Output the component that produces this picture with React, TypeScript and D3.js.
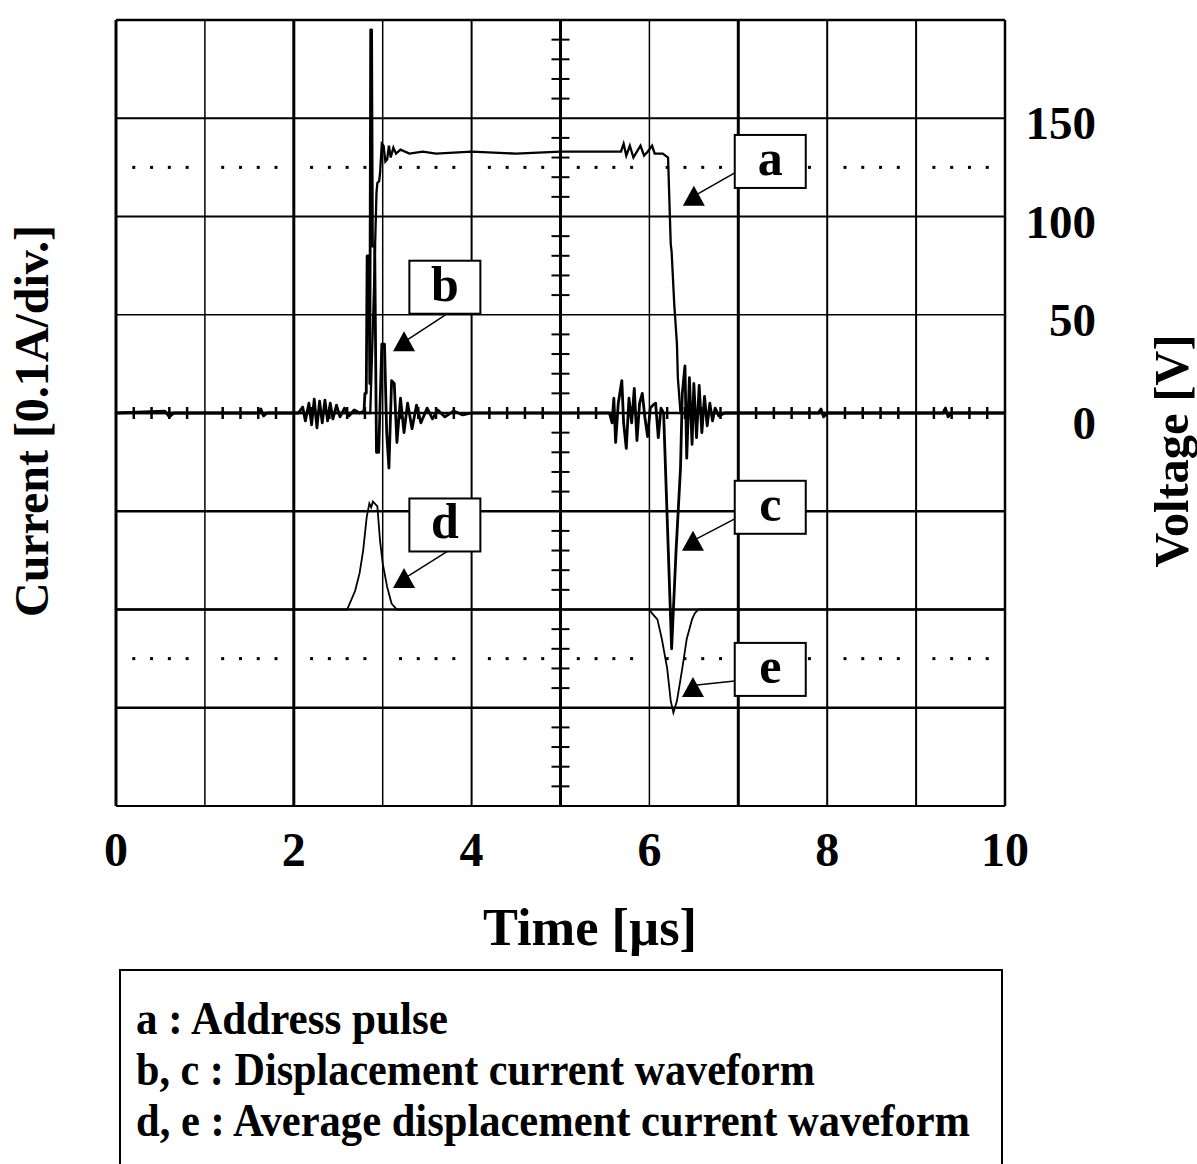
import React from 'react';
import * as d3 from 'd3';

const WIDTH = 1197;
const HEIGHT = 1164;
const FONT = '"Liberation Serif", "Times New Roman", serif';

// bottom axis labels [µs]
const timeLabels = [0, 2, 4, 6, 8, 10];
// right axis labels [V]
const voltageLabels = [0, 50, 100, 150];

// a : address pulse, [time µs, voltage V]
const addressPulse = [
  [0, 0], [2.86, 0], [2.9, 60], [2.93, 112], [2.94, 117], [2.96, 118], [2.97, 122],
  [2.99, 137], [3.01, 136], [3.03, 128], [3.05, 129], [3.07, 136], [3.09, 130],
  [3.12, 135], [3.15, 132], [3.2, 134], [3.3, 132], [3.45, 133], [3.6, 132], [4.0, 133],
  [4.5, 132], [5.0, 133], [5.5, 133], [5.68, 133], [5.71, 137], [5.74, 131], [5.78, 136],
  [5.82, 130], [5.86, 133], [5.9, 136], [5.94, 131], [5.98, 133], [6.03, 136], [6.06, 132],
  [6.15, 132], [6.21, 130], [6.24, 86], [6.25, 82], [6.28, 55], [6.31, 35], [6.32, 18],
  [6.35, 0], [10, 0],
];

// b, c : displacement current, [time µs, current A]
const displacementCurrent = [
  [0, 0], [0.55, 0.002], [0.6, -0.004], [0.65, 0], [1.6, 0], [1.63, 0.004], [1.66, -0.003],
  [1.7, 0], [2.05, 0], [2.1, 0.006], [2.13, -0.008], [2.17, 0.01], [2.2, -0.012],
  [2.23, 0.014], [2.26, -0.015], [2.29, 0.012], [2.32, -0.01], [2.35, 0.013], [2.38, -0.008],
  [2.41, 0.01], [2.44, -0.006], [2.48, 0.008], [2.52, -0.004], [2.57, 0.005], [2.62, -0.003],
  [2.68, 0.003], [2.74, 0], [2.79, 0.002], [2.8, 0.02], [2.815, 0.02], [2.825, 0.16],
  [2.845, 0.16], [2.855, 0.03], [2.865, 0.39], [2.875, 0.39], [2.885, 0.17], [2.91, 0.17],
  [2.93, -0.04], [2.955, -0.04], [2.99, 0.07], [3.02, 0.07], [3.045, -0.02], [3.07, -0.056],
  [3.1, 0.033], [3.13, 0.03], [3.16, -0.03], [3.2, 0.015], [3.24, -0.02], [3.28, 0.01],
  [3.33, -0.016], [3.38, 0.008], [3.43, -0.01], [3.5, 0.005], [3.56, -0.006], [3.62, 0.003],
  [3.7, -0.004], [3.8, 0.002], [3.9, -0.002], [4.0, 0], [5.55, 0], [5.58, -0.01],
  [5.6, 0.015], [5.62, -0.03], [5.65, 0.01], [5.69, 0.033], [5.71, -0.01], [5.74, -0.036],
  [5.77, 0.015], [5.8, -0.01], [5.83, 0.025], [5.86, -0.028], [5.89, 0.01], [5.92, 0.02],
  [5.95, -0.005], [5.98, -0.024], [6.01, 0.005], [6.04, 0.008], [6.07, 0.01], [6.1, -0.025],
  [6.13, 0.005], [6.16, 0], [6.19, -0.08], [6.25, -0.24], [6.3, -0.14], [6.35, -0.056],
  [6.37, 0.02], [6.4, 0.048], [6.42, -0.046], [6.45, 0.036], [6.48, -0.032], [6.5, 0.03],
  [6.53, -0.025], [6.56, 0.028], [6.59, -0.02], [6.62, 0.017], [6.65, -0.013], [6.68, 0.01],
  [6.71, -0.008], [6.74, 0.005], [6.78, -0.003], [6.85, 0], [7.9, 0], [7.93, 0.004],
  [7.96, -0.004], [8.0, 0], [9.3, 0], [9.33, 0.005], [9.36, -0.004], [9.4, 0], [10, 0],
];

// d, e : average displacement current, [time µs, current A]
const averageCurrent = [
  [0, 0], [2.6, 0], [2.69, 0.019], [2.74, 0.037], [2.78, 0.06], [2.82, 0.094], [2.85, 0.108],
  [2.87, 0.104], [2.89, 0.11], [2.94, 0.105], [2.97, 0.07], [3.0, 0.047], [3.05, 0.023],
  [3.1, 0.006], [3.16, 0], [6.0, 0], [6.03, -0.004], [6.09, -0.01], [6.14, -0.03], [6.2, -0.06],
  [6.24, -0.093], [6.27, -0.105], [6.31, -0.093], [6.37, -0.06], [6.42, -0.03], [6.48, -0.01],
  [6.51, -0.004], [6.55, 0], [10, 0],
];
// averaged trace is displayed 2 div (0.2 A) below zero
const AVERAGE_OFFSET = -0.2;

// dotted reference levels [A]
const dottedLevels = [0.25, -0.25];

// trace markers: box top-left and arrow tip, in (µs, A)
const markers = [
  { label: 'a', boxT: 6.96, boxA: 0.283, tipT: 6.5, tipA: 0.22, from: 'left' },
  { label: 'b', boxT: 3.3, boxA: 0.155, tipT: 3.24, tipA: 0.072, from: 'bottom' },
  { label: 'c', boxT: 6.96, boxA: -0.069, tipT: 6.49, tipA: -0.131, from: 'left' },
  { label: 'd', boxT: 3.3, boxA: -0.087, tipT: 3.24, tipA: -0.169, from: 'bottom' },
  { label: 'e', boxT: 6.96, boxA: -0.234, tipT: 6.49, tipA: -0.28, from: 'left' },
];

const legendLines = [
  { text: 'a : Address pulse', len: 312 },
  { text: 'b, c : Displacement current waveform', len: 679 },
  { text: 'd, e : Average displacement current waveform', len: 834 },
];

const plot = { left: 116, right: 1005, top: 20, bottom: 806 };

export default function App() {
  const x = d3.scaleLinear().domain([0, 10]).range([plot.left, plot.right]);
  const yCur = d3.scaleLinear().domain([-0.4, 0.4]).range([plot.bottom, plot.top]);
  const yVolt = d3.scaleLinear().domain([-200, 200]).range([plot.bottom, plot.top]);

  const voltLine = d3.line().x((d) => x(d[0])).y((d) => yVolt(d[1]));
  const curLine = d3.line().x((d) => x(d[0])).y((d) => yCur(d[1]));
  const avgLine = d3.line().x((d) => x(d[0])).y((d) => yCur(d[1] + AVERAGE_OFFSET));

  // graticule line weights as they look on the scope photo
  const vWidths = [3, 1.5, 3, 1.5, 2, 3, 1.5, 3, 2, 2, 2.5];
  const hWidths = [2, 2.5, 2.5, 2.5, 2.5, 1.5, 2, 2, 2.5];

  const divT = d3.range(0, 11);
  const divA = d3.range(-4, 5).map((k) => k / 10);
  const minorT = d3.range(0, 51).filter((i) => i % 5 !== 0).map((i) => i / 5);
  const minorA = d3.range(-20, 21).filter((i) => i % 5 !== 0).map((i) => i / 50);

  const boxW = 71;
  const boxH = 53;

  return (
    <svg
      width={WIDTH}
      height={HEIGHT}
      style={{ position: 'absolute', left: 0, top: 0, background: '#fff' }}
      fontFamily={FONT}
    >
      <rect width={WIDTH} height={HEIGHT} fill="#fff" />

      {/* graticule */}
      <g stroke="#000">
        {divT.map((t, i) => (
          <line key={`v${t}`} x1={x(t)} x2={x(t)} y1={plot.top} y2={plot.bottom} strokeWidth={vWidths[i]} />
        ))}
        {divA.map((a, i) => (
          <line key={`h${i}`} x1={plot.left} x2={plot.right} y1={yCur(a)} y2={yCur(a)} strokeWidth={hWidths[i]} />
        ))}
        {minorT.map((t) => (
          <line key={`mt${t}`} x1={x(t)} x2={x(t)} y1={yCur(0) - 6} y2={yCur(0) + 6} strokeWidth={2.5} />
        ))}
        {minorA.map((a) => (
          <line key={`ma${a}`} x1={x(5) - 9} x2={x(5) + 9} y1={yCur(a)} y2={yCur(a)} strokeWidth={2} />
        ))}
      </g>
      <g fill="#000">
        {dottedLevels.map((lv) =>
          minorT.map((t) => (
            <rect key={`d${lv}-${t}`} x={x(t) - 1.5} y={yCur(lv) - 1.5} width={3} height={3} />
          ))
        )}
      </g>

      {/* traces */}
      <path d={avgLine(averageCurrent) ?? ''} fill="none" stroke="#000" strokeWidth={1.8} />
      <path d={voltLine(addressPulse) ?? ''} fill="none" stroke="#000" strokeWidth={2.3} />
      <path d={curLine(displacementCurrent) ?? ''} fill="none" stroke="#000" strokeWidth={2.8} strokeLinejoin="round" />

      {/* trace markers */}
      {markers.map((m) => {
        const bx = x(m.boxT);
        const by = yCur(m.boxA);
        const tx = x(m.tipT);
        const ty = yCur(m.tipA);
        const sx = m.from === 'left' ? bx : bx + 38;
        const sy = m.from === 'left' ? by + 38 : by + boxH;
        return (
          <g key={m.label}>
            <line x1={sx} y1={sy} x2={tx + 4} y2={ty - 3} stroke="#000" strokeWidth={1.5} />
            <path d={`M${tx},${ty - 11}L${tx + 11},${ty + 9}L${tx - 11},${ty + 9}Z`} fill="#000" />
            <rect x={bx} y={by} width={boxW} height={boxH} fill="#fff" stroke="#000" strokeWidth={2} />
            <text x={bx + boxW / 2} y={by + 40} textAnchor="middle" fontSize={50} fontWeight="bold">
              {m.label}
            </text>
          </g>
        );
      })}

      {/* axis labels */}
      {timeLabels.map((t) => (
        <text key={`tl${t}`} x={x(t)} y={866} textAnchor="middle" fontSize={48} fontWeight="bold">
          {t}
        </text>
      ))}
      {voltageLabels.map((v) => (
        <text key={`vl${v}`} x={1096} y={yVolt(v) + (v === 0 ? 26 : 21)} textAnchor="end" fontSize={47} fontWeight="bold">
          {v}
        </text>
      ))}
      <text x={590} y={945} textAnchor="middle" fontSize={52} fontWeight="bold" textLength={214} lengthAdjust="spacingAndGlyphs">
        Time [µs]
      </text>
      <text
        transform="translate(48,421) rotate(-90)"
        textAnchor="middle"
        fontSize={48}
        fontWeight="bold"
        textLength={392}
        lengthAdjust="spacingAndGlyphs"
      >
        Current [0.1A/div.]
      </text>
      <text
        transform="translate(1188,451) rotate(-90)"
        textAnchor="middle"
        fontSize={48}
        fontWeight="bold"
        textLength={233}
        lengthAdjust="spacingAndGlyphs"
      >
        Voltage [V]
      </text>

      {/* legend */}
      <rect x={120} y={970} width={882} height={300} fill="none" stroke="#000" strokeWidth={2} />
      {legendLines.map((l, i) => (
        <text
          key={l.text}
          x={136}
          y={1034 + i * 51}
          fontSize={46}
          fontWeight="bold"
          textLength={l.len}
          lengthAdjust="spacingAndGlyphs"
        >
          {l.text}
        </text>
      ))}
    </svg>
  );
}
